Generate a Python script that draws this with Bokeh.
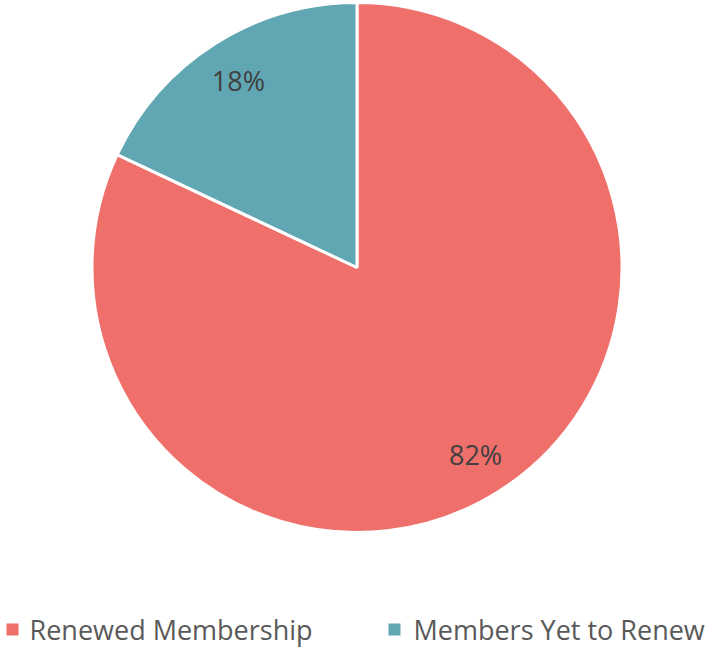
import numpy as np
from bokeh.plotting import figure
from bokeh.models import ColumnDataSource, Range1d
from bokeh.core.properties import value
from bokeh.embed import file_html
from bokeh.resources import INLINE

categories = ["Renewed Membership", "Members Yet to Renew"]
shares = [82, 18]
colors = ["#EF6F6A", "#61A6B3"]

W, H = 710, 648
cx, cy, R = 356.5, 381.0, 265.0

vals = np.array(shares, dtype=float)
frac = vals / vals.sum()
cum_after = np.cumsum(frac)
cum_before = cum_after - frac
start = np.deg2rad(90 - cum_after * 360)
end = np.deg2rad(90 - cum_before * 360)
mid = (start + end) / 2
lr = 0.835 * R

src = ColumnDataSource(dict(
    cat=categories, start=start, end=end, color=colors,
    lx=cx + lr * np.cos(mid), ly=cy + lr * np.sin(mid),
    lab=[f"{s}%" for s in shares],
))

p = figure(width=W, height=H, output_backend="svg", toolbar_location=None,
           x_range=Range1d(0, W), y_range=Range1d(0, H),
           min_border=0, outline_line_color=None)
p.axis.visible = False
p.grid.visible = False

p.wedge(x=cx, y=cy, radius=R, start_angle="start", end_angle="end",
        direction="anticlock", fill_color="color", line_color="white",
        line_width=3, source=src)

p.text(x="lx", y="ly", text="lab", source=src, text_align="center",
       text_baseline="middle", text_font=value("Open Sans"),
       text_font_size="27px", text_color="#404040")

# legend (layout positions)
leg_sq_x = [12, 394]
leg_tx_x = [29, 413]
mid_y = 19
leg = ColumnDataSource(dict(sx=leg_sq_x, tx=leg_tx_x, cat=categories, color=colors,
                            my=[mid_y] * 2))
p.rect(x="sx", y="my", width=12, height=12, fill_color="color", line_color=None, source=leg)
p.text(x="tx", y="my", text="cat", source=leg, text_align="left",
       text_baseline="middle", text_font=value("Open Sans"),
       text_font_size="27px", text_color="#595959")

open("out.html", "w").write(file_html(p, INLINE))
